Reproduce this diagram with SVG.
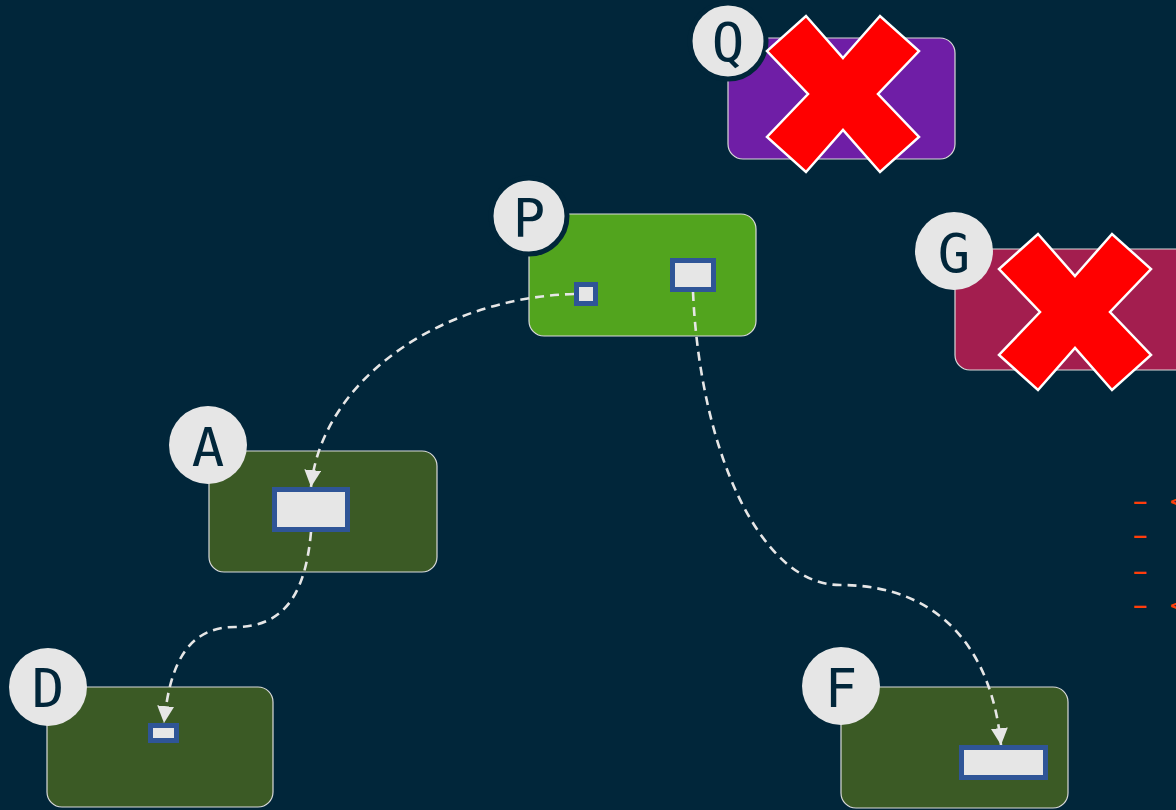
<svg xmlns="http://www.w3.org/2000/svg" width="1176" height="810" viewBox="0 0 1176 810">
<defs>
<style>
.box{stroke:#d9d9d9;stroke-width:1.2}
.badge{fill:#e6e6e6}
.ring{fill:#e6e6e6;stroke:#01263a;stroke-width:5}
.lbl{font-family:"DejaVu Sans Mono","Liberation Mono",monospace;font-size:54px;fill:#01263a;text-anchor:middle}
.port{fill:#e6e6e6;stroke:#2f5597;stroke-width:5}
.edge{fill:none;stroke:#e6e6e6;stroke-width:2.6;stroke-dasharray:9 6}
.cross{fill:#ff0000;stroke:#ffffff;stroke-width:2.5;stroke-linejoin:miter}
.note{font-family:"DejaVu Sans Mono","Liberation Mono",monospace;font-size:20px;font-weight:bold;fill:#ff3d0a}
</style>
<marker id="arr" viewBox="0 0 10 10" refX="10" refY="5" markerWidth="6.5" markerHeight="6.5" markerUnits="strokeWidth" orient="auto">
<path d="M0,0 L10,5 L0,10 z" fill="#e6e6e6"/>
</marker>
<polygon id="x" points="0,-36 37,-78 76,-43 35,0 76,43 37,78 0,36 -37,78 -76,43 -35,0 -76,-43 -37,-78"/>
</defs>
<rect width="1176" height="810" fill="#01263a"/>

<g id="node-Q">
<rect class="box" x="728" y="38" width="227" height="121" rx="15" fill="#6f1ea6"/>
<circle class="ring" cx="728" cy="41" r="38"/>
<text class="lbl" x="728" y="61">Q</text>
<use href="#x" class="cross" x="843" y="94"/>
</g>

<g id="node-P">
<rect class="box" x="529" y="214" width="227" height="122" rx="15" fill="#52a41e"/>
<circle class="ring" cx="529" cy="216" r="38"/>
<text class="lbl" x="529" y="237">P</text>
<rect class="port" x="576.5" y="284.5" width="19" height="19"/>
<rect class="port" x="672.5" y="260.5" width="41" height="29"/>
</g>

<g id="node-G">
<rect class="box" x="955" y="249" width="240" height="121" rx="15" fill="#a31e4f"/>
<circle class="badge" cx="954" cy="251" r="39"/>
<text class="lbl" x="954" y="272">G</text>
<use href="#x" class="cross" x="1075" y="312"/>
</g>

<g id="node-A">
<rect class="box" x="209" y="451" width="228" height="121" rx="15" fill="#3b5a25"/>
<circle class="badge" cx="208" cy="445" r="39"/>
<text class="lbl" x="208" y="466">A</text>
<rect class="port" x="274.5" y="489.5" width="73" height="40"/>
</g>

<g id="node-D">
<rect class="box" x="47" y="687" width="226" height="120" rx="15" fill="#3b5a25"/>
<circle class="badge" cx="48" cy="687" r="39"/>
<text class="lbl" x="48" y="707">D</text>
<rect class="port" x="150.5" y="725.5" width="26" height="15"/>
</g>

<g id="node-F">
<rect class="box" x="841" y="687" width="227" height="121" rx="15" fill="#3b5a25"/>
<circle class="badge" cx="841" cy="686" r="39"/>
<text class="lbl" x="841" y="707">F</text>
<rect class="port" x="961.5" y="747.5" width="84" height="30"/>
</g>

<g id="connectors">
<path class="edge" marker-end="url(#arr)" d="M574,294 C440,298 322,380 311,487"/>
<path class="edge" marker-end="url(#arr)" d="M693,292 C700,450 760,585 840,585 C940,585 992,650 1001,745"/>
<path class="edge" marker-end="url(#arr)" d="M311,532 C305,600 280,627 235,627 C190,627 170,660 164,723"/>
</g>

<g id="notes">
<text class="note" x="1134" y="508" xml:space="preserve">–  &lt;</text>
<text class="note" x="1134" y="542">–</text>
<text class="note" x="1134" y="578">–</text>
<text class="note" x="1134" y="612" xml:space="preserve">–  &lt;</text>
</g>
</svg>
